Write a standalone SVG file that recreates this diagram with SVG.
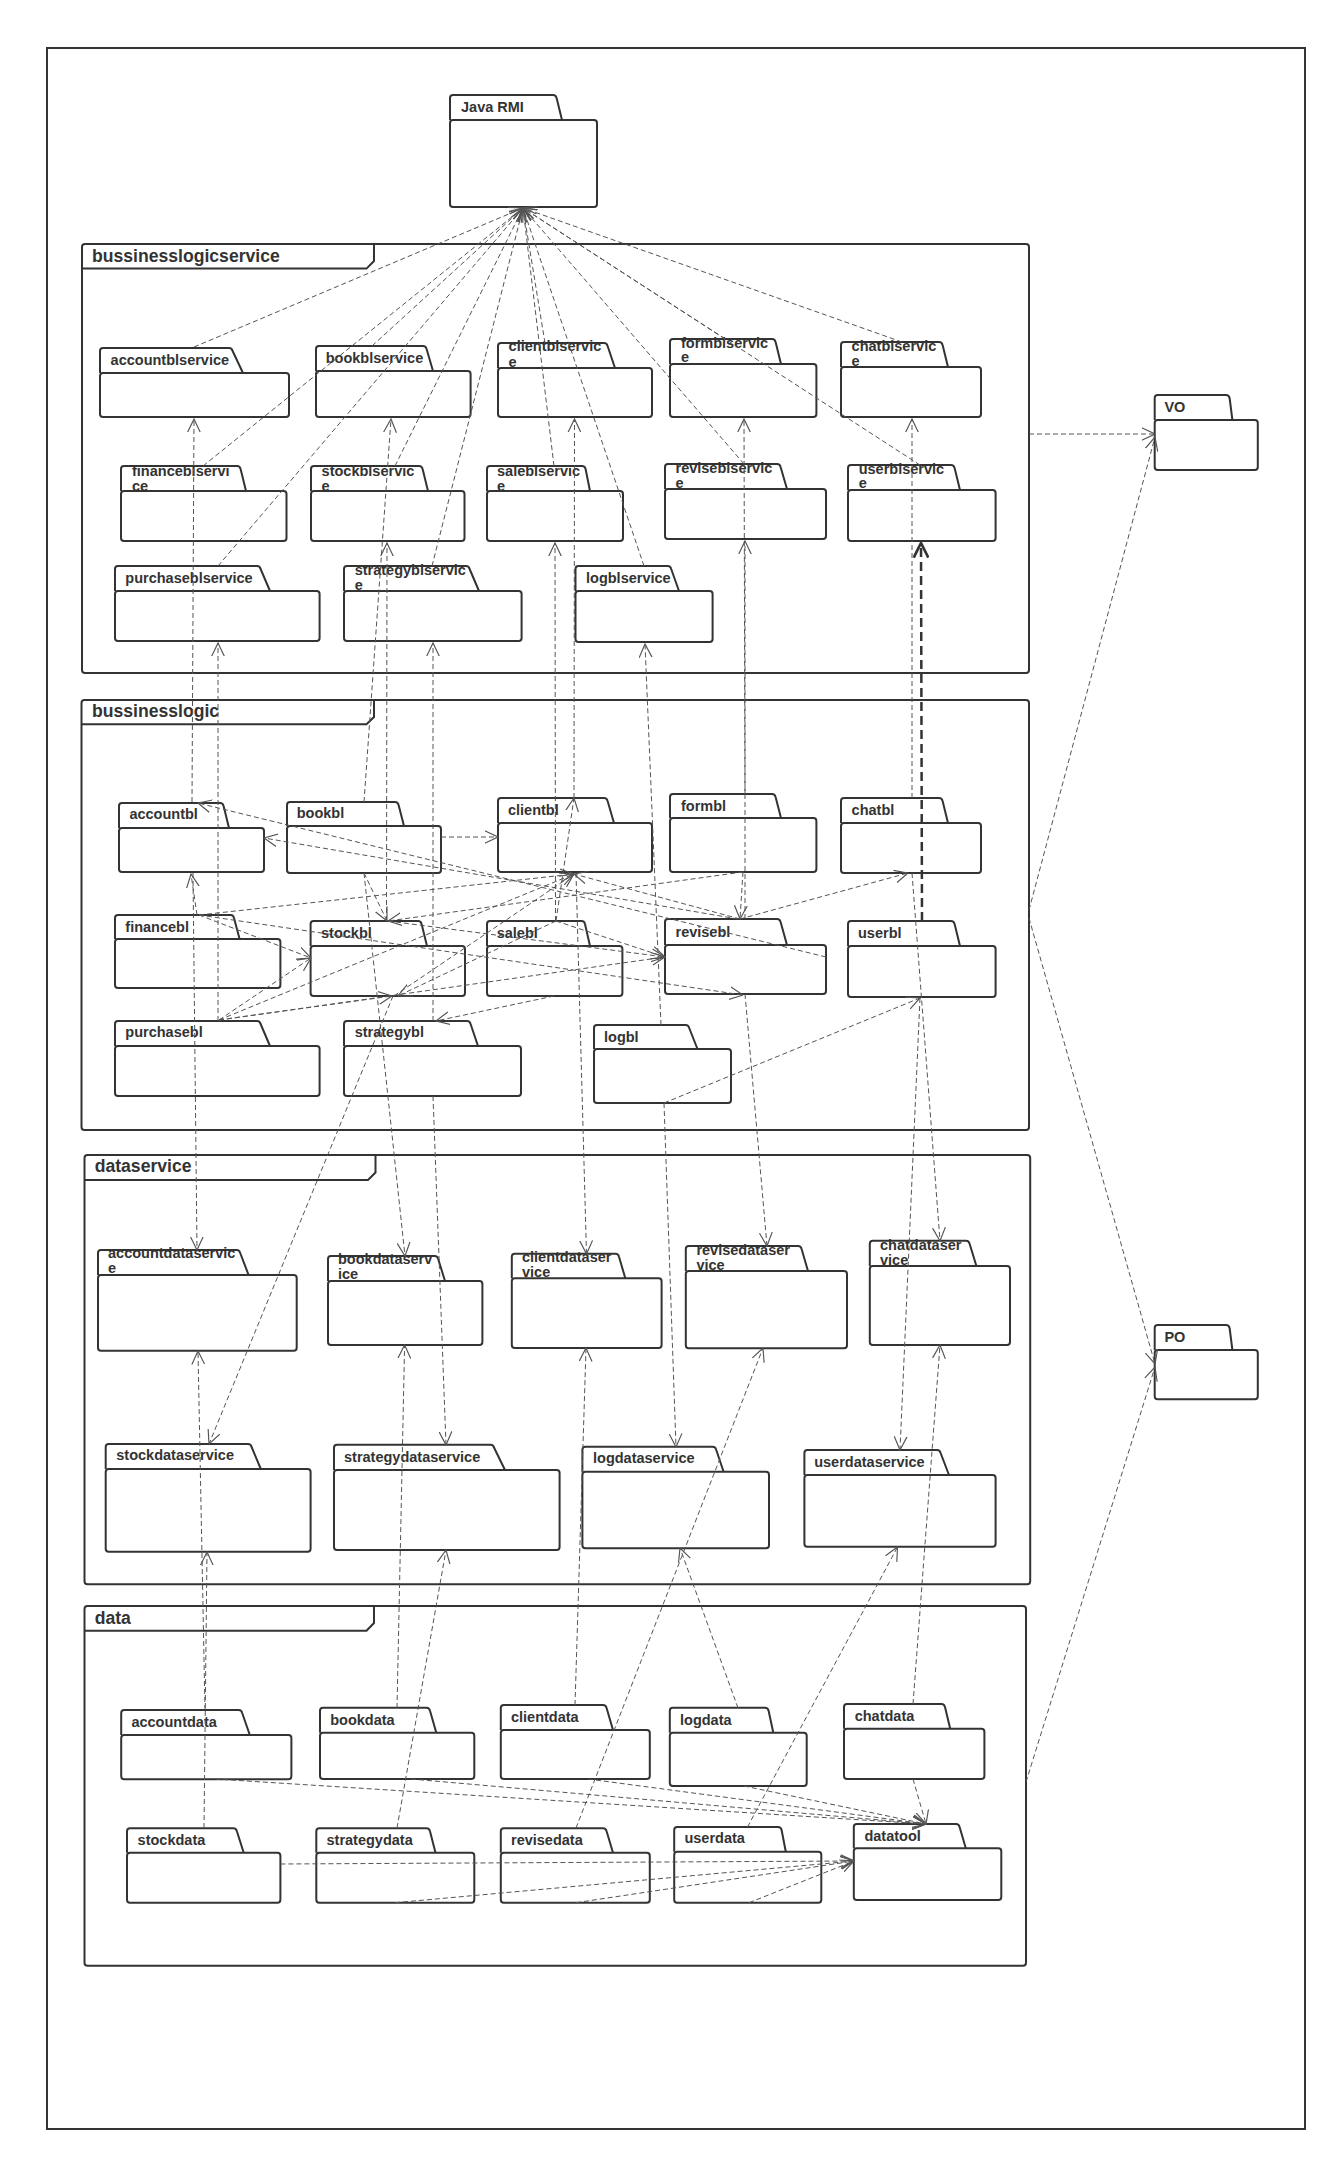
<svg xmlns="http://www.w3.org/2000/svg" width="1337" height="2161" viewBox="0 0 1337 2161">
<style>
.bg{fill:#fff}
.pkg path,.pkg rect{fill:#fff;stroke:#333;stroke-width:2;stroke-linejoin:round}
.frm rect{fill:none;stroke:#333;stroke-width:2}
.frm path{fill:none;stroke:#333;stroke-width:2}
text{font-family:"Liberation Sans",Arial,sans-serif;font-weight:bold;fill:#333}
.pkg text{font-size:14.5px}
.frm text{font-size:17.6px}
.conn line{stroke:#555;stroke-width:1;stroke-dasharray:5 3;fill:none;marker-end:url(#a)}
.conn line.bold{stroke:#333;stroke-width:2.5;stroke-dasharray:9 5;marker-end:url(#ab)}
</style>
<defs>
<marker id="a" markerUnits="userSpaceOnUse" markerWidth="14" markerHeight="14" viewBox="0 0 12 12" refX="11.5" refY="6" orient="auto"><path d="M0,0.5 L11.5,6 L0,11.5" fill="none" stroke="#555" stroke-width="1"/></marker>
<marker id="ab" markerUnits="userSpaceOnUse" markerWidth="16" markerHeight="16" viewBox="0 0 12 12" refX="11" refY="6" orient="auto"><path d="M0,0.5 L11,6 L0,11.5" fill="none" stroke="#333" stroke-width="2"/></marker>
</defs>
<rect class="bg" x="0" y="0" width="1337" height="2161"/>
<rect x="47" y="48" width="1258" height="2081" fill="none" stroke="#333" stroke-width="2"/>

<g id="frame-bussinesslogicservice" class="frm">
<rect x="82" y="244" width="947" height="429" rx="3"/>
<path d="M82 268.6 H366.5 L374 261 V244"/>
<text x="92" y="262">bussinesslogicservice</text>
</g>
<g id="frame-bussinesslogic" class="frm">
<rect x="81.5" y="700" width="947.5" height="430" rx="3"/>
<path d="M81.5 724.3 H366.5 L374 717 V700"/>
<text x="92" y="716.7">bussinesslogic</text>
</g>
<g id="frame-dataservice" class="frm">
<rect x="84.5" y="1155" width="945.7" height="429.3" rx="3"/>
<path d="M84.5 1180 H368 L375.5 1172.5 V1155"/>
<text x="94.7" y="1172.3">dataservice</text>
</g>
<g id="frame-data" class="frm">
<rect x="84.5" y="1606" width="941.5" height="359.7" rx="3"/>
<path d="M84.5 1630.7 H366.5 L374 1623 V1606"/>
<text x="94.7" y="1624.3">data</text>
</g>

<g id="JavaRMI" class="pkg"><path d="M450 120 V98 Q450 95 453 95 H553 Q556 95 556.6 98 L562 120"/><rect x="450" y="120" width="147" height="87" rx="3"/><text x="461" y="112">Java RMI</text></g>

<g id="accountblservice" class="pkg"><path d="M100 373 V351 Q100 348 103 348 H229 Q232 348 232.6 351 L243 373"/><rect x="100" y="373" width="189" height="44" rx="3"/><text x="110.6" y="364.6">accountblservice</text></g>
<g id="bookblservice" class="pkg"><path d="M316 371 V349 Q316 346 319 346 H423 Q426 346 426.6 349 L433 371"/><rect x="316" y="371" width="154.6" height="46" rx="3"/><text x="325.7" y="363">bookblservice</text></g>
<g id="clientblservice" class="pkg"><path d="M498 368 V346 Q498 343 501 343 H604 Q607 343 607.6 346 L615 368"/><rect x="498" y="368" width="154" height="49" rx="3"/><text x="508.6" y="351.4">clientblservic</text><text x="508.6" y="366.8">e</text></g>
<g id="formblservice" class="pkg"><path d="M670 364 V342 Q670 339 673 339 H772 Q775 339 775.6 342 L781 364"/><rect x="670" y="364" width="146.4" height="53" rx="3"/><text x="681" y="348">formblservic</text><text x="681" y="362">e</text></g>
<g id="chatblservice" class="pkg"><path d="M841 367 V345 Q841 342 844 342 H939 Q942 342 942.6 345 L948 367"/><rect x="841" y="367" width="140" height="50" rx="3"/><text x="851.6" y="351.4">chatblservic</text><text x="851.6" y="365.7">e</text></g>
<g id="financeblservice" class="pkg"><path d="M121 491 V469 Q121 466 124 466 H237 Q240 466 240.6 469 L246 491"/><rect x="121" y="491" width="165.5" height="50" rx="3"/><text x="132" y="476">financeblservi</text><text x="132" y="490.7">ce</text></g>
<g id="stockblservice" class="pkg"><path d="M311 491 V469 Q311 466 314 466 H419 Q422 466 422.6 469 L428 491"/><rect x="311" y="491" width="153.5" height="50" rx="3"/><text x="321.6" y="475.5">stockblservic</text><text x="321.6" y="490.7">e</text></g>
<g id="saleblservice" class="pkg"><path d="M487 491 V469 Q487 466 490 466 H582 Q585 466 585.6 469 L590 491"/><rect x="487" y="491" width="136" height="50" rx="3"/><text x="497" y="475.5">saleblservic</text><text x="497" y="490.7">e</text></g>
<g id="reviseblservice" class="pkg"><path d="M665 489 V467 Q665 464 668 464 H777 Q780 464 780.6 467 L787 489"/><rect x="665" y="489" width="161" height="50" rx="3"/><text x="675.5" y="473">reviseblservic</text><text x="675.5" y="487.5">e</text></g>
<g id="userblservice" class="pkg"><path d="M848 490 V468 Q848 465 851 465 H951 Q954 465 954.6 468 L960 490"/><rect x="848" y="490" width="147.6" height="51" rx="3"/><text x="858.7" y="473.5">userblservic</text><text x="858.7" y="488">e</text></g>
<g id="purchaseblservice" class="pkg"><path d="M115 591 V569 Q115 566 118 566 H257 Q260 566 260.6 569 L270 591"/><rect x="115" y="591" width="204.6" height="50" rx="3"/><text x="125.3" y="583">purchaseblservice</text></g>
<g id="strategyblservice" class="pkg"><path d="M344 591 V569 Q344 566 347 566 H466 Q469 566 469.6 569 L479 591"/><rect x="344" y="591" width="177.6" height="50" rx="3"/><text x="354.7" y="575">strategyblservic</text><text x="354.7" y="589.5">e</text></g>
<g id="logblservice" class="pkg"><path d="M575.5 591 V569 Q575.5 566 578.5 566 H667.6 Q670.6 566 671.2 569 L679 591"/><rect x="575.5" y="591" width="137.1" height="51" rx="3"/><text x="586" y="583">logblservice</text></g>

<g id="accountbl" class="pkg"><path d="M119 828 V806 Q119 803 122 803 H220 Q223 803 223.6 806 L229 828"/><rect x="119" y="828" width="145" height="44" rx="3"/><text x="129.4" y="819.3">accountbl</text></g>
<g id="bookbl" class="pkg"><path d="M287 826 V805 Q287 802 290 802 H395 Q398 802 398.6 805 L404 826"/><rect x="287" y="826" width="154" height="47" rx="3"/><text x="296.7" y="818">bookbl</text></g>
<g id="clientbl" class="pkg"><path d="M498 823 V801 Q498 798 501 798 H604 Q607 798 607.6 801 L614 823"/><rect x="498" y="823" width="154" height="49" rx="3"/><text x="508" y="815">clientbl</text></g>
<g id="formbl" class="pkg"><path d="M670 818 V797 Q670 794 673 794 H772 Q775 794 775.6 797 L781 818"/><rect x="670" y="818" width="146.4" height="54" rx="3"/><text x="681" y="811">formbl</text></g>
<g id="chatbl" class="pkg"><path d="M841 823 V801 Q841 798 844 798 H939 Q942 798 942.6 801 L948 823"/><rect x="841" y="823" width="140" height="50" rx="3"/><text x="851.6" y="815">chatbl</text></g>
<g id="financebl" class="pkg"><path d="M115 939 V918 Q115 915 118 915 H230.5 Q233.5 915 234 918 L239.6 939"/><rect x="115" y="939" width="165.4" height="49" rx="3"/><text x="125.3" y="931.7">financebl</text></g>
<g id="stockbl" class="pkg"><path d="M310.6 946 V924 Q310.6 921 313.6 921 H418 Q421 921 421.6 924 L427 946"/><rect x="310.6" y="946" width="154.4" height="50" rx="3"/><text x="321" y="938">stockbl</text></g>
<g id="salebl" class="pkg"><path d="M487 946 V924 Q487 921 490 921 H581.5 Q584.5 921 585 924 L590 946"/><rect x="487" y="946" width="135.4" height="50" rx="3"/><text x="496.7" y="938">salebl</text></g>
<g id="revisebl" class="pkg"><path d="M665 945 V922 Q665 919 668 919 H777 Q780 919 780.6 922 L787 945"/><rect x="665" y="945" width="161" height="49" rx="3"/><text x="675.5" y="936.7">revisebl</text></g>
<g id="userbl" class="pkg"><path d="M848 946 V924 Q848 921 851 921 H951 Q954 921 954.6 924 L960 946"/><rect x="848" y="946" width="147.6" height="51" rx="3"/><text x="858" y="937.7">userbl</text></g>
<g id="purchasebl" class="pkg"><path d="M115 1046 V1024 Q115 1021 118 1021 H257 Q260 1021 260.6 1024 L270 1046"/><rect x="115" y="1046" width="204.6" height="50" rx="3"/><text x="125.3" y="1037.3">purchasebl</text></g>
<g id="strategybl" class="pkg"><path d="M344 1046 V1024 Q344 1021 347 1021 H467 Q470 1021 470.6 1024 L478 1046"/><rect x="344" y="1046" width="177" height="50" rx="3"/><text x="354.7" y="1037.3">strategybl</text></g>
<g id="logbl" class="pkg"><path d="M594 1049 V1028 Q594 1025 597 1025 H685.6 Q688.6 1025 689.2 1028 L697.5 1049"/><rect x="594" y="1049" width="137" height="54" rx="3"/><text x="604" y="1041.7">logbl</text></g>

<g id="accountdataservice" class="pkg"><path d="M98 1275 V1253 Q98 1250 101 1250 H236.6 Q239.6 1250 240.2 1253 L248.6 1275"/><rect x="98" y="1275" width="198.7" height="75.7" rx="3"/><text x="108" y="1258.3">accountdataservic</text><text x="108" y="1273.3">e</text></g>
<g id="bookdataservice" class="pkg"><path d="M328 1281 V1259 Q328 1256 331 1256 H434.6 Q437.6 1256 438.2 1259 L445 1281"/><rect x="328" y="1281" width="154.4" height="64" rx="3"/><text x="338" y="1264.3">bookdataserv</text><text x="338" y="1279.3">ice</text></g>
<g id="clientdataservice" class="pkg"><path d="M511.8 1278.3 V1256.7 Q511.8 1253.7 514.8 1253.7 H615.4 Q618.4 1253.7 619 1256.7 L625.3 1278.3"/><rect x="511.8" y="1278.3" width="149.8" height="69.7" rx="3"/><text x="522" y="1262.3">clientdataser</text><text x="522" y="1276.7">vice</text></g>
<g id="revisedataservice" class="pkg"><path d="M685.8 1271 V1249 Q685.8 1246 688.8 1246 H798 Q801 1246 801.6 1249 L808 1271"/><rect x="685.8" y="1271" width="161.2" height="77.3" rx="3"/><text x="696.4" y="1255">revisedataser</text><text x="696.4" y="1270">vice</text></g>
<g id="chatdataservice" class="pkg"><path d="M869.8 1266 V1243.7 Q869.8 1240.7 872.8 1240.7 H966 Q969 1240.7 969.6 1243.7 L976.4 1266"/><rect x="869.8" y="1266" width="140.2" height="79" rx="3"/><text x="880" y="1250">chatdataser</text><text x="880" y="1265">vice</text></g>
<g id="stockdataservice" class="pkg"><path d="M105.7 1469 V1447 Q105.7 1444 108.7 1444 H248 Q251 1444 251.6 1447 L260.8 1469"/><rect x="105.7" y="1469" width="204.9" height="82.7" rx="3"/><text x="116.3" y="1460">stockdataservice</text></g>
<g id="strategydataservice" class="pkg"><path d="M334 1470 V1447.7 Q334 1444.7 337 1444.7 H490.5 Q493.5 1444.7 494.1 1447.7 L505 1470"/><rect x="334" y="1470" width="225.6" height="80" rx="3"/><text x="344" y="1461.7">strategydataservice</text></g>
<g id="logdataservice" class="pkg"><path d="M582.4 1471.7 V1449.7 Q582.4 1446.7 585.4 1446.7 H712.6 Q715.6 1446.7 716.2 1449.7 L723.6 1471.7"/><rect x="582.4" y="1471.7" width="186.6" height="76.6" rx="3"/><text x="593" y="1463.3">logdataservice</text></g>
<g id="userdataservice" class="pkg"><path d="M804.4 1475 V1453 Q804.4 1450 807.4 1450 H937 Q940 1450 940.6 1453 L949 1475"/><rect x="804.4" y="1475" width="191.2" height="71.7" rx="3"/><text x="814.2" y="1466.7">userdataservice</text></g>

<g id="accountdata" class="pkg"><path d="M121.2 1735 V1713 Q121.2 1710 124.2 1710 H238.6 Q241.6 1710 242.2 1713 L249.8 1735"/><rect x="121.2" y="1735" width="170.2" height="44.3" rx="3"/><text x="131.4" y="1726.7">accountdata</text></g>
<g id="bookdata" class="pkg"><path d="M320 1732.7 V1710.7 Q320 1707.7 323 1707.7 H426.4 Q429.4 1707.7 430 1710.7 L436.3 1732.7"/><rect x="320" y="1732.7" width="154.3" height="46.3" rx="3"/><text x="330.2" y="1725">bookdata</text></g>
<g id="clientdata" class="pkg"><path d="M500.8 1730 V1708 Q500.8 1705 503.8 1705 H603 Q606 1705 606.6 1708 L613 1730"/><rect x="500.8" y="1730" width="149" height="49" rx="3"/><text x="511" y="1721.7">clientdata</text></g>
<g id="logdata" class="pkg"><path d="M669.8 1732.7 V1710.7 Q669.8 1707.7 672.8 1707.7 H765 Q768 1707.7 768.6 1710.7 L773.3 1732.7"/><rect x="669.8" y="1732.7" width="136.9" height="53.3" rx="3"/><text x="680" y="1725">logdata</text></g>
<g id="chatdata" class="pkg"><path d="M844 1728.7 V1707 Q844 1704 847 1704 H941.4 Q944.4 1704 945 1707 L950.2 1728.7"/><rect x="844" y="1728.7" width="140.4" height="50.3" rx="3"/><text x="854.7" y="1720.7">chatdata</text></g>
<g id="stockdata" class="pkg"><path d="M127 1852.7 V1831.3 Q127 1828.3 130 1828.3 H233.3 Q236.3 1828.3 236.9 1831.3 L243.7 1852.7"/><rect x="127" y="1852.7" width="153.4" height="50" rx="3"/><text x="137.6" y="1845">stockdata</text></g>
<g id="strategydata" class="pkg"><path d="M316.3 1852.7 V1831.3 Q316.3 1828.3 319.3 1828.3 H426.4 Q429.4 1828.3 430 1831.3 L435.5 1852.7"/><rect x="316.3" y="1852.7" width="158" height="50" rx="3"/><text x="326.5" y="1845">strategydata</text></g>
<g id="revisedata" class="pkg"><path d="M500.8 1852.7 V1831.3 Q500.8 1828.3 503.8 1828.3 H603 Q606 1828.3 606.6 1831.3 L613 1852.7"/><rect x="500.8" y="1852.7" width="149" height="50" rx="3"/><text x="511" y="1845">revisedata</text></g>
<g id="userdata" class="pkg"><path d="M674.2 1851.7 V1830 Q674.2 1827 677.2 1827 H778 Q781 1827 781.6 1830 L785.8 1851.7"/><rect x="674.2" y="1851.7" width="147.1" height="51" rx="3"/><text x="684.4" y="1843.3">userdata</text></g>
<g id="datatool" class="pkg"><path d="M853.8 1848.3 V1827 Q853.8 1824 856.8 1824 H956 Q959 1824 959.6 1827 L965.8 1848.3"/><rect x="853.8" y="1848.3" width="147.5" height="51.7" rx="3"/><text x="864.4" y="1840.7">datatool</text></g>

<g id="VO" class="pkg"><path d="M1154.7 420 V398 Q1154.7 395 1157.7 395 H1226 Q1229 395 1229.6 398 L1232.4 420"/><rect x="1154.7" y="420" width="103.1" height="50" rx="3"/><text x="1164.4" y="412">VO</text></g>
<g id="PO" class="pkg"><path d="M1154.7 1350 V1328 Q1154.7 1325 1157.7 1325 H1226 Q1229 1325 1229.6 1328 L1232.4 1350"/><rect x="1154.7" y="1350" width="103.1" height="49.3" rx="3"/><text x="1164.4" y="1341.7">PO</text></g>

<g id="connectors" class="conn">
<line x1="194" y1="347" x2="523" y2="208"/>
<line x1="372" y1="346" x2="523" y2="208"/>
<line x1="545" y1="343" x2="523" y2="208"/>
<line x1="725" y1="339" x2="523" y2="208"/>
<line x1="902" y1="342" x2="523" y2="208"/>
<line x1="203" y1="466" x2="523" y2="208"/>
<line x1="395" y1="466" x2="523" y2="208"/>
<line x1="554" y1="466" x2="523" y2="208"/>
<line x1="744" y1="464" x2="523" y2="208"/>
<line x1="920" y1="465" x2="523" y2="208"/>
<line x1="218" y1="566" x2="523" y2="208"/>
<line x1="432" y1="566" x2="523" y2="208"/>
<line x1="644" y1="566" x2="523" y2="208"/>

<line x1="192" y1="802" x2="194" y2="419"/>
<line x1="364" y1="802" x2="391" y2="419"/>
<line x1="574" y1="798" x2="574.5" y2="419"/>
<line x1="745" y1="794" x2="744" y2="419"/>
<line x1="912" y1="798" x2="912" y2="419"/>
<line x1="386.5" y1="921" x2="387" y2="543"/>
<line x1="555.5" y1="921" x2="555" y2="543"/>
<line x1="745" y1="919" x2="745" y2="541"/>
<line class="bold" x1="922" y1="921" x2="921" y2="543"/>
<line x1="218" y1="1021" x2="218" y2="643"/>
<line x1="433" y1="1021" x2="433" y2="643"/>
<line x1="661" y1="1025" x2="645" y2="644"/>

<line x1="197" y1="915" x2="191" y2="874"/>
<line x1="199" y1="915" x2="574" y2="874"/>
<line x1="199" y1="915" x2="311" y2="958"/>
<line x1="199" y1="915" x2="743" y2="995"/>
<line x1="219" y1="1020" x2="311" y2="958"/>
<line x1="219" y1="1020" x2="392" y2="996"/>
<line x1="219" y1="1020" x2="574" y2="874"/>
<line x1="219" y1="1020" x2="665" y2="957"/>
<line x1="441" y1="837" x2="498" y2="837"/>
<line x1="364" y1="873" x2="387" y2="921"/>
<line x1="738" y1="919" x2="264" y2="838"/>
<line x1="826" y1="957" x2="198" y2="803"/>
<line x1="743" y1="872" x2="740" y2="919"/>
<line x1="743" y1="872" x2="388" y2="921"/>
<line x1="740" y1="919" x2="574" y2="874"/>
<line x1="740" y1="919" x2="908" y2="873"/>
<line x1="556" y1="921" x2="574" y2="798"/>
<line x1="556" y1="921" x2="665" y2="957"/>
<line x1="556" y1="921" x2="398" y2="996"/>
<line x1="554" y1="996" x2="436" y2="1021"/>
<line x1="388" y1="921" x2="665" y2="957"/>
<line x1="394" y1="996" x2="574" y2="874"/>
<line x1="664" y1="1103" x2="920" y2="998"/>

<line x1="193" y1="873" x2="197" y2="1250"/>
<line x1="364" y1="873" x2="405" y2="1256"/>
<line x1="576" y1="873" x2="586.5" y2="1254"/>
<line x1="393" y1="996" x2="209" y2="1444"/>
<line x1="433" y1="1096" x2="446" y2="1445"/>
<line x1="664" y1="1103" x2="676" y2="1447"/>
<line x1="745" y1="994" x2="767" y2="1246"/>
<line x1="912" y1="873" x2="940" y2="1241"/>
<line x1="920" y1="998" x2="900" y2="1450"/>

<line x1="205" y1="1710" x2="198" y2="1351"/>
<line x1="204" y1="1828" x2="207" y2="1552"/>
<line x1="397" y1="1708" x2="404.6" y2="1345"/>
<line x1="397" y1="1828" x2="446" y2="1550"/>
<line x1="575" y1="1705" x2="586" y2="1348"/>
<line x1="576" y1="1828" x2="763" y2="1348"/>
<line x1="738" y1="1708" x2="680" y2="1548"/>
<line x1="747.5" y1="1827" x2="897.5" y2="1547"/>
<line x1="913" y1="1704" x2="940" y2="1345"/>

<line x1="215" y1="1779" x2="926" y2="1824"/>
<line x1="411" y1="1779" x2="926" y2="1824"/>
<line x1="588" y1="1779" x2="926" y2="1824"/>
<line x1="744" y1="1786" x2="926" y2="1824"/>
<line x1="913" y1="1779" x2="926" y2="1824"/>
<line x1="280.4" y1="1864" x2="854" y2="1861"/>
<line x1="395" y1="1902.7" x2="854" y2="1861"/>
<line x1="576" y1="1902.7" x2="854" y2="1861"/>
<line x1="749" y1="1902.7" x2="854" y2="1861"/>

<line x1="1029" y1="434" x2="1155" y2="434"/>
<line x1="1029" y1="910" x2="1155" y2="437"/>
<line x1="1029" y1="918" x2="1155" y2="1364"/>
<line x1="1026" y1="1782" x2="1155" y2="1367"/>
</g>
</svg>
